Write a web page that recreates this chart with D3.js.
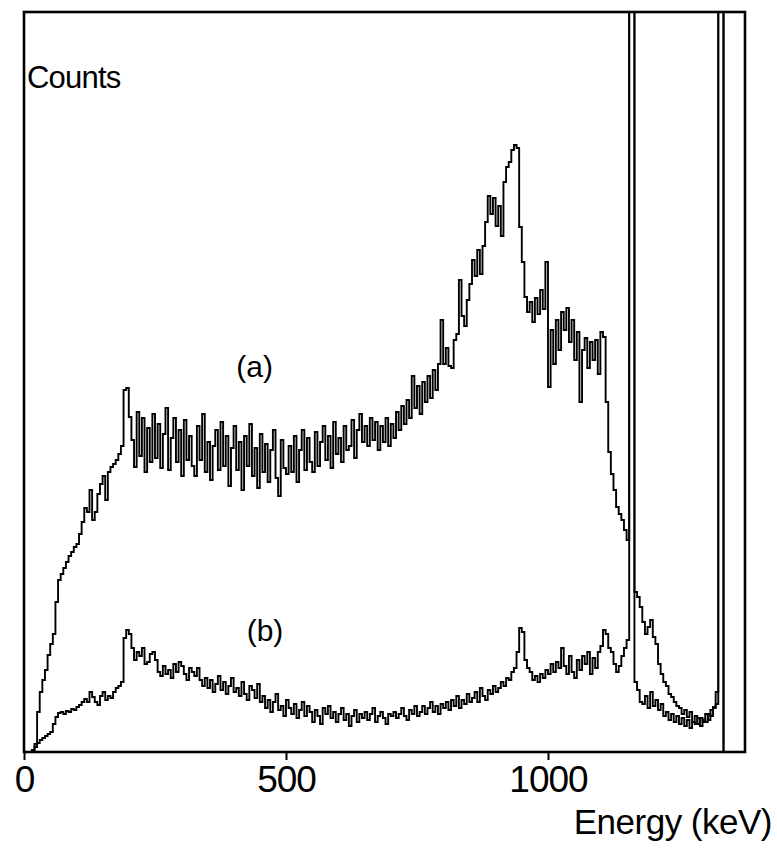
<!DOCTYPE html>
<html>
<head>
<meta charset="utf-8">
<script src="https://cdn.jsdelivr.net/npm/d3@7"></script>
<style>
  html, body { margin: 0; padding: 0; background: #fff; }
  svg { display: block; }
  text { font-family: "Liberation Sans", Arial, Helvetica, sans-serif; fill: #000; }
</style>
</head>
<body>
<svg id="chart" width="777" height="848"></svg>
<script>
// Pulse-height spectra, 5 keV channels starting at 0 keV (counts in arbitrary units).
const channelWidth = 5;

// Spectrum (a)
const countsA = [
  0, 0, 0, 0, 8, 40, 60, 72, 82, 97,
  108, 118, 150, 172, 178, 184, 190, 196, 200, 205,
  208, 218, 230, 244, 240, 262, 232, 240, 258, 268,
  276, 252, 280, 285, 288, 292, 298, 306, 362, 364,
  335, 312, 285, 340, 296, 334, 280, 324, 290, 338,
  294, 328, 284, 318, 344, 282, 314, 334, 290, 322,
  276, 332, 292, 316, 286, 276, 326, 292, 338, 280,
  310, 272, 306, 322, 282, 330, 286, 316, 266, 304,
  326, 282, 310, 262, 316, 286, 328, 276, 304, 264,
  318, 280, 308, 270, 302, 322, 274, 256, 312, 284,
  278, 306, 280, 316, 270, 302, 322, 282, 314, 290,
  280, 320, 286, 310, 326, 292, 316, 284, 330, 298,
  314, 290, 326, 302, 306, 332, 294, 322, 338, 310,
  326, 306, 334, 312, 330, 302, 326, 310, 334, 306,
  328, 314, 340, 322, 346, 328, 352, 334, 376, 344,
  366, 338, 370, 350, 376, 354, 382, 362, 388, 432,
  388, 404, 386, 384, 412, 418, 472, 436, 426, 452,
  468, 492, 476, 502, 478, 506, 530, 556, 538, 554,
  526, 546, 516, 570, 585, 590, 602, 607, 604, 525,
  490, 455, 440, 450, 430, 454, 438, 462, 443, 490,
  365, 422, 388, 432, 402, 440, 422, 444, 410, 432,
  392, 420, 350, 402, 414, 384, 410, 392, 412, 378,
  420, 415, 350, 300, 278, 262, 245, 238, 232, 222,
  212, 1200, 1200, 160, 155, 145, 130, 118, 125, 132,
  115, 108, 88, 78, 70, 66, 58, 55, 50, 46,
  44, 38, 42, 35, 40, 30, 36, 28, 34, 30,
  38, 32, 42, 45, 60, 1200, 1200, 0, 0, 0,
  0, 0, 0, 0, 0, 0
];

// Spectrum (b)
const countsB = [
  0, 0, 0, 2, 5, 9, 12, 14, 16, 18,
  20, 28, 35, 39, 40, 38, 41, 40, 43, 42,
  45, 47, 50, 53, 50, 60, 55, 50, 47, 56,
  60, 52, 56, 54, 60, 64, 66, 70, 114, 122,
  118, 104, 92, 100, 96, 104, 88, 90, 98, 100,
  92, 80, 76, 86, 78, 82, 74, 88, 80, 90,
  86, 78, 72, 84, 80, 76, 84, 72, 66, 74,
  64, 72, 60, 68, 76, 62, 70, 58, 66, 74,
  60, 64, 56, 70, 58, 52, 66, 62, 54, 68,
  50, 56, 44, 52, 40, 50, 58, 42, 46, 36,
  52, 44, 38, 48, 34, 42, 50, 36, 46, 40,
  30, 42, 36, 28, 44, 38, 46, 34, 40, 30,
  38, 44, 32, 38, 26, 36, 42, 30, 38, 34,
  40, 32, 38, 44, 30, 36, 40, 34, 28, 38,
  36, 40, 34, 38, 44, 36, 32, 42, 38, 46,
  36, 40, 46, 38, 44, 50, 40, 46, 38, 48,
  44, 50, 42, 52, 46, 56, 44, 52, 48, 58,
  50, 54, 60, 50, 64, 56, 52, 62, 58, 66,
  60, 64, 70, 66, 74, 72, 80, 84, 100, 124,
  120, 92, 84, 80, 72, 76, 70, 78, 74, 82,
  78, 88, 80, 90, 84, 104, 86, 78, 96, 80,
  74, 92, 82, 96, 88, 100, 78, 94, 84, 100,
  106, 122, 118, 104, 100, 88, 80, 86, 96, 104,
  112, 1200, 1200, 70, 62, 50, 48, 56, 44, 60,
  46, 52, 42, 48, 36, 40, 32, 38, 30, 36,
  28, 34, 26, 32, 24, 30, 28, 34, 26, 32,
  30, 38, 36, 44, 48, 1200, 1200, 0, 0, 0,
  0, 0, 0, 0, 0, 0
];

const tickEnergies = [0, 500, 1000];
const xLabel = "Energy (keV)";
const yLabel = "Counts";
const seriesLabels = ["(a)", "(b)"];

const svg = d3.select("#chart");
const frame = { left: 24, right: 745, top: 12, bottom: 752 };

const x = d3.scaleLinear().domain([0, 1376]).range([frame.left, frame.right]);
const y = d3.scaleLinear().domain([0, 740]).range([frame.bottom, frame.top]);

svg.append("defs").append("clipPath").attr("id", "plot-clip")
  .append("rect")
  .attr("x", frame.left).attr("y", frame.top)
  .attr("width", frame.right - frame.left)
  .attr("height", frame.bottom - frame.top);

// Histogram outline: one step per channel, closed at the right edge of the last channel.
function toSteps(counts) {
  const pts = counts.map((c, i) => [i * channelWidth, c]);
  pts.push([counts.length * channelWidth, counts[counts.length - 1]]);
  return pts;
}

const line = d3.line()
  .x(d => x(d[0]))
  .y(d => y(d[1]))
  .curve(d3.curveStepAfter);

const plot = svg.append("g").attr("clip-path", "url(#plot-clip)");

[countsB, countsA].forEach(counts => {
  plot.append("path")
    .datum(toSteps(counts))
    .attr("d", line)
    .attr("fill", "none")
    .attr("stroke", "#000")
    .attr("stroke-width", 1.9)
    .attr("stroke-linejoin", "miter");
});

// Frame
svg.append("rect")
  .attr("x", frame.left).attr("y", frame.top)
  .attr("width", frame.right - frame.left)
  .attr("height", frame.bottom - frame.top)
  .attr("fill", "none")
  .attr("stroke", "#000")
  .attr("stroke-width", 2.6);

// Energy axis
const axis = svg.append("g")
  .attr("transform", `translate(0,${frame.bottom})`)
  .call(d3.axisBottom(x).tickValues(tickEnergies).tickFormat(d3.format("d"))
    .tickSize(8).tickPadding(6));
axis.select(".domain").remove();
axis.selectAll(".tick line").attr("stroke", "#000").attr("stroke-width", 2);
axis.selectAll(".tick text")
  .style("font-family", '"Liberation Sans", Arial, sans-serif')
  .style("font-size", "37px")
  .attr("letter-spacing", "-1px")
  .attr("fill", "#000");

svg.append("text")
  .attr("x", 772).attr("y", 834)
  .attr("text-anchor", "end")
  .style("font-size", "35px")
  .attr("letter-spacing", "-0.5px")
  .text(xLabel);

svg.append("text")
  .attr("x", 27).attr("y", 88)
  .style("font-size", "31px")
  .attr("letter-spacing", "-0.8px")
  .text(yLabel);

svg.append("text")
  .attr("x", x(440)).attr("y", 377)
  .attr("text-anchor", "middle")
  .style("font-size", "30px")
  .text(seriesLabels[0]);

svg.append("text")
  .attr("x", x(460)).attr("y", 641)
  .attr("text-anchor", "middle")
  .style("font-size", "30px")
  .text(seriesLabels[1]);
</script>
</body>
</html>
